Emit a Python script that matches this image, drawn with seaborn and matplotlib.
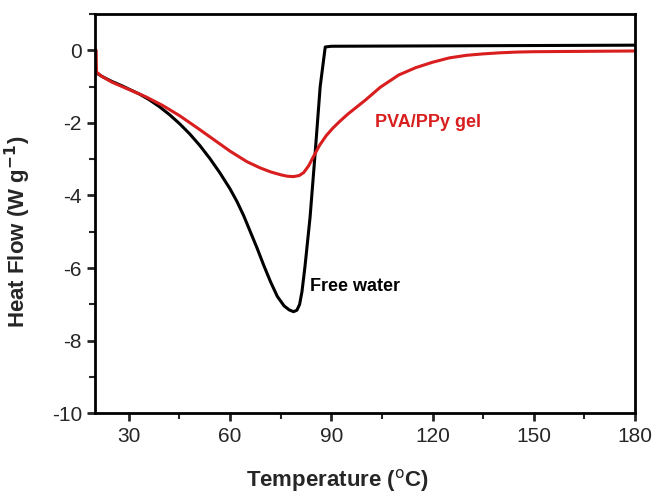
import matplotlib
matplotlib.use("Agg")
import matplotlib.pyplot as plt
from matplotlib.ticker import MultipleLocator
import numpy as np
import pandas as pd
import seaborn as sns

# DSC traces
WATER_T = [20.3, 22, 25, 28, 30, 33, 36, 39, 42, 45, 48, 51, 54, 57, 60, 62,
           64, 66, 68, 70, 72, 74, 76, 77.5, 78.8, 79.8, 80.6, 81.3, 82.2,
           83.7, 85.2, 86.7, 87.8, 88.2, 90, 120, 150, 180]
WATER_HF = [-0.62, -0.72, -0.86, -0.98, -1.07, -1.2, -1.36, -1.55, -1.77,
            -2.02, -2.3, -2.62, -2.98, -3.38, -3.82, -4.16, -4.55, -5.0, -5.45,
            -5.93, -6.38, -6.78, -7.04, -7.15, -7.2, -7.16, -7.0, -6.65, -5.95,
            -4.6, -2.84, -1.0, -0.2, 0.09, 0.11, 0.12, 0.13, 0.14]

GEL_T = [20.3, 20.4, 22, 25, 30, 35, 40, 45, 50, 55, 60, 65, 68.9, 72, 75,
         77, 78.8, 80.5, 81.8, 83.3, 84.7, 86.5, 88.5, 90.5, 92.6, 95, 100,
         104.5, 110, 115, 120, 125, 130, 135, 140, 145, 150, 165, 180]
GEL_HF = [0.0, -0.6, -0.72, -0.88, -1.08, -1.28, -1.52, -1.8, -2.12, -2.45,
          -2.78, -3.07, -3.24, -3.35, -3.43, -3.47, -3.48, -3.45, -3.37, -3.18,
          -2.93, -2.62, -2.35, -2.14, -1.95, -1.75, -1.38, -1.02, -0.68,
          -0.48, -0.33, -0.21, -0.14, -0.1, -0.07, -0.05, -0.04, -0.03, -0.02]

LABELS = ["Free water", "PVA/PPy gel"]
COLORS = {"Free water": "#000000", "PVA/PPy gel": "#d81e1e"}

sns.set_style("white")
plt.rcParams["font.family"] = ["Liberation Sans", "DejaVu Sans"]
plt.rcParams["axes.unicode_minus"] = False

df = pd.concat([
    pd.DataFrame({"T": WATER_T, "HF": WATER_HF, "sample": LABELS[0]}),
    pd.DataFrame({"T": GEL_T, "HF": GEL_HF, "sample": LABELS[1]}),
])

fig = plt.figure(figsize=(6.56, 4.98), dpi=100)
ax = fig.add_axes([0.145, 0.17, 0.823, 0.802])

sns.lineplot(data=df, x="T", y="HF", hue="sample", palette=COLORS,
             sort=False, estimator=None, linewidth=2.2, legend=False, ax=ax)

ax.set_xlim(20, 180)
ax.set_ylim(-10, 1)
ax.set_xticks(np.arange(30, 181, 30))
ax.xaxis.set_minor_locator(MultipleLocator(15))
ax.yaxis.set_major_locator(MultipleLocator(2))
ax.yaxis.set_minor_locator(MultipleLocator(1))

for s in ax.spines.values():
    s.set_linewidth(2)
    s.set_color("black")
ax.tick_params(which="major", direction="out", length=6, width=2,
               labelsize=15, bottom=True, left=True, top=False, right=False)
ax.tick_params(which="minor", direction="out", length=4, width=1.5,
               bottom=True, left=True, top=False, right=False)

ax.set_xlabel("Temperature ($^{\\mathrm{o}}$C)", fontsize=16,
              fontweight="bold")
ax.set_ylabel("Heat Flow (W g$^{\\mathbf{-1}}$)", fontsize=16,
              fontweight="bold")
ax.xaxis.set_label_coords(0.449, -0.135)
ax.yaxis.set_label_coords(-0.115, 0.454)

ax.text(118.7, -1.98, "PVA/PPy gel", color=COLORS["PVA/PPy gel"],
        fontsize=13, fontweight="bold", ha="center", va="center")
ax.text(83.7, -6.5, "Free water", color="black",
        fontsize=13, fontweight="bold", ha="left", va="center")

fig.savefig("out.png", dpi=100)
